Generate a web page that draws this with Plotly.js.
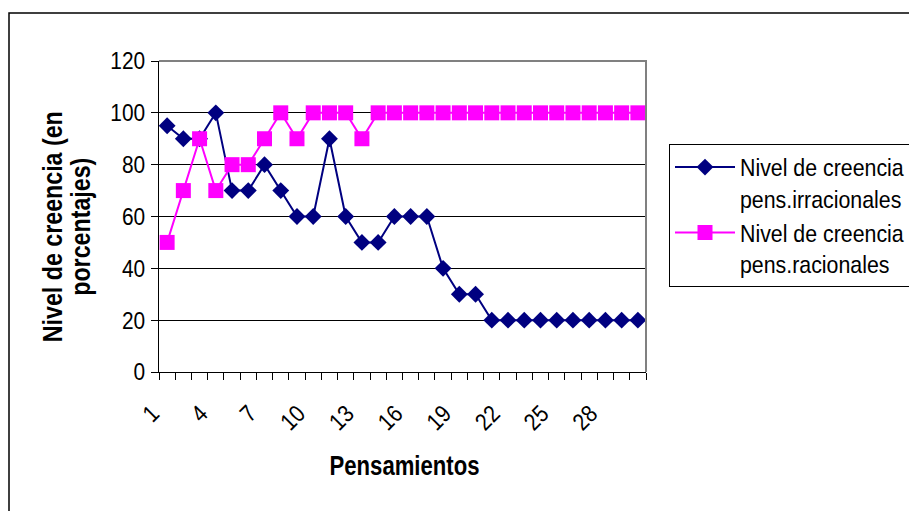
<!DOCTYPE html>
<html>
<head>
<meta charset="utf-8">
<script src="https://cdn.plot.ly/plotly-3.0.1.min.js"></script>
<style>
  html, body { margin: 0; padding: 0; background: #fff; }
  #chart { width: 909px; height: 511px; }
</style>
</head>
<body>
<div id="chart"></div>
<script>
// Pensamientos (thought number) on the x axis
const pensamientos = [1, 2, 3, 4, 5, 6, 7, 8, 9, 10, 11, 12, 13, 14, 15,
                      16, 17, 18, 19, 20, 21, 22, 23, 24, 25, 26, 27, 28, 29, 30];

// Belief level (%) for irrational thoughts
const nivelIrracionales = [95, 90, 90, 100, 70, 70, 80, 70, 60, 60, 90, 60, 50, 50, 60,
                           60, 60, 40, 30, 30, 20, 20, 20, 20, 20, 20, 20, 20, 20, 20];

// Belief level (%) for rational thoughts
const nivelRacionales = [50, 70, 90, 70, 80, 80, 90, 100, 90, 100, 100, 100, 90, 100, 100,
                         100, 100, 100, 100, 100, 100, 100, 100, 100, 100, 100, 100, 100, 100, 100];

// Labelled ticks on the x axis
const xTickVals = [1, 4, 7, 10, 13, 16, 19, 22, 25, 28];
const xTickText = ['1', '4', '7', '10', '13', '16', '19', '22', '25', '28'];

const serieNames = ['Nivel de creencia<br>pens.irracionales', 'Nivel de creencia<br>pens.racionales'];
const yTitleLines = ['Nivel de creencia (en', 'porcentajes)'];
const xTitle = 'Pensamientos';

const FONT = "Arial, 'Liberation Sans', sans-serif";

// Plot-area geometry in pixels
const W = 909, H = 511;
const M = { l: 159, r: 263, t: 61, b: 139 };
const PW = W - M.l - M.r, PH = H - M.t - M.b;
const px = x => (x - M.l) / PW;          // pixel x -> paper x
const py = y => (H - M.b - y) / PH;      // pixel y -> paper y

const traces = [
  {
    x: pensamientos, y: nivelIrracionales, name: serieNames[0],
    type: 'scatter', mode: 'lines+markers',
    line: { color: '#000080', width: 2 },
    marker: { symbol: 'diamond', size: 13, color: '#000080' }
  },
  {
    x: pensamientos, y: nivelRacionales, name: serieNames[1],
    type: 'scatter', mode: 'lines+markers',
    line: { color: '#FF00FF', width: 2 },
    marker: { symbol: 'square', size: 15, color: '#FF00FF' }
  }
];

const layout = {
  width: W, height: H,
  margin: { l: M.l, r: M.r, t: M.t, b: M.b, autoexpand: false },
  paper_bgcolor: '#fff', plot_bgcolor: '#fff',
  font: { family: FONT, color: '#000', size: 24 },
  showlegend: true,
  xaxis: {
    range: [0.5, 30.5],
    tickmode: 'array', tickvals: xTickVals, ticktext: xTickText,
    tickangle: -45, ticks: '', ticklabelstandoff: 17, ticklabelshift: -15,
    tickfont: { family: FONT, size: 24, color: '#000' },
    showgrid: false, zeroline: false,
    showline: true, linecolor: '#000', linewidth: 1,
    minor: { tickmode: 'linear', tick0: 0.5, dtick: 1, ticks: 'outside', ticklen: 7, tickcolor: '#000', tickwidth: 1, showgrid: false },
    fixedrange: true
  },
  yaxis: {
    range: [0, 120], dtick: 20,
    ticks: 'outside', ticklen: 7, tickcolor: '#000', tickwidth: 1,
    ticklabelstandoff: 1,
    tickfont: { family: FONT, size: 24, color: '#000' },
    showgrid: true, gridcolor: '#000', gridwidth: 1,
    zeroline: false,
    showline: true, linecolor: '#000', linewidth: 1,
    fixedrange: true
  },
  legend: {
    x: px(669), y: py(144), xanchor: 'left', yanchor: 'top',
    bgcolor: '#fff', bordercolor: '#000', borderwidth: 1,
    font: { family: FONT, size: 24, color: '#000' },
    valign: 'top', itemwidth: 60, tracegroupgap: 6
  },
  shapes: [
    // outer chart frame
    { type: 'rect', xref: 'paper', yref: 'paper',
      x0: px(9), x1: px(930), y0: py(530), y1: py(13),
      line: { color: '#000', width: 1.5 }, layer: 'below' },
    // grey top and right border of the plot area
    { type: 'path', xref: 'paper', yref: 'paper',
      path: 'M 0 1 L 1 1 L 1 0',
      line: { color: '#808080', width: 2 }, layer: 'above' }
  ],
  annotations: [
    { text: yTitleLines[0], textangle: -90,
      xref: 'paper', yref: 'paper', x: px(53), y: py(227),
      xanchor: 'center', yanchor: 'middle', showarrow: false,
      font: { family: FONT, size: 27, color: '#000', weight: 'bold' } },
    { text: yTitleLines[1], textangle: -90,
      xref: 'paper', yref: 'paper', x: px(81), y: py(227),
      xanchor: 'center', yanchor: 'middle', showarrow: false,
      font: { family: FONT, size: 27, color: '#000', weight: 'bold' } },
    { text: xTitle,
      xref: 'paper', yref: 'paper', x: px(404), y: py(466),
      xanchor: 'center', yanchor: 'middle', showarrow: false,
      font: { family: FONT, size: 27, color: '#000', weight: 'bold' } }
  ]
};

// Narrow the lettering along its baseline, keeping each text's anchor point fixed
function condense(nodes, k) {
  nodes.forEach(t => {
    const x = parseFloat(t.getAttribute('x') || 0);
    const y = parseFloat(t.getAttribute('y') || 0);
    const tr = t.getAttribute('transform') || '';
    t.setAttribute('transform',
      tr + ' translate(' + x + ',' + y + ') scale(' + k + ',1) translate(' + (-x) + ',' + (-y) + ')');
  });
}

Plotly.newPlot('chart', traces, layout, { staticPlot: true, displayModeBar: false }).then(gd => {
  const q = s => Array.from(gd.querySelectorAll(s));
  condense(q('.ytick text'), 0.87);
  condense(q('.xtick text'), 0.87);
  condense(q('.legendtext'), 0.89);
  const ann = q('.annotation-text');
  condense(ann.slice(0, 2), 0.86);
  condense(ann.slice(2), 0.82);
});
</script>
</body>
</html>
